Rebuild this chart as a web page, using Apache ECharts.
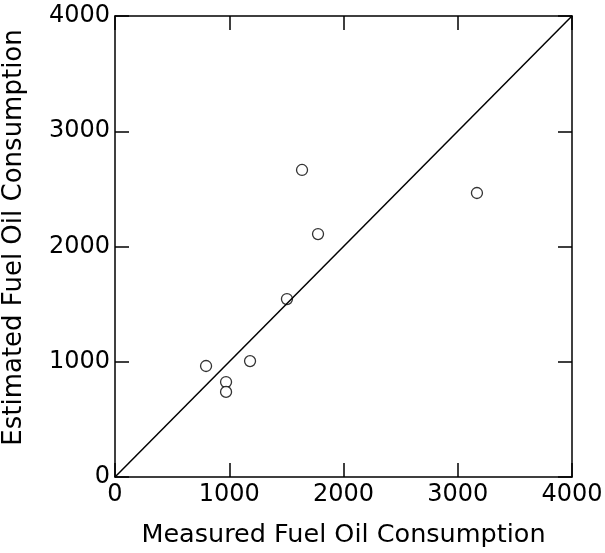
<!DOCTYPE html>
<html>
<head>
<meta charset="utf-8">
<script src="https://cdn.jsdelivr.net/npm/echarts@6/dist/echarts.min.js"></script>
<style>
  html, body { margin: 0; padding: 0; background: #fff; }
  #chart { width: 605px; height: 553px; }
</style>
</head>
<body>
<div id="chart"></div>
<script>
// measured vs estimated
const measured = [797, 972, 972, 1182, 1505, 1637, 1777, 3168]
const estimated = [963, 824, 738, 1006, 1544, 2664, 2108, 2464]
const diagonal = [[0, 0], [4000, 4000]]

const pts = measured.map((m, i) => [m, estimated[i]])
const font = 'DejaVu Sans'

const chart = echarts.init(document.getElementById('chart'))

// common axis look: black frame, ticks inside
function axisBase() {
  return {
    type: 'value',
    min: 0,
    max: 4000,
    interval: 1000,
    splitLine: { show: false },
    axisLine: { show: true, onZero: false, lineStyle: { color: '#000', width: 1.5 } },
    axisTick: { show: true, inside: true, length: 14, lineStyle: { color: '#000', width: 1.5 } }
  }
}

chart.setOption({
  animation: false,
  backgroundColor: '#fff',
  grid: { left: 115, right: 33, top: 16, bottom: 76, containLabel: false, outerBoundsMode: 'none' },
  xAxis: [
    Object.assign(axisBase(), {
      position: 'bottom',
      name: 'Measured Fuel Oil Consumption',
      nameLocation: 'middle',
      nameGap: 45,
      nameTextStyle: { color: '#000', fontSize: 25.5, fontFamily: font },
      axisLabel: { color: '#000', fontSize: 24, fontFamily: font, margin: 6, formatter: v => String(v) }
    }),
    Object.assign(axisBase(), { position: 'top', axisLabel: { show: false } })
  ],
  yAxis: [
    Object.assign(axisBase(), {
      position: 'left',
      name: 'Estimated Fuel Oil Consumption',
      nameLocation: 'middle',
      nameGap: 88,
      nameTextStyle: { color: '#000', fontSize: 26, fontFamily: font, padding: [0, 0, 0, 18] },
      axisLabel: { color: '#000', fontSize: 24, fontFamily: font, margin: 5, formatter: v => String(v) }
    }),
    Object.assign(axisBase(), { position: 'right', axisLabel: { show: false } })
  ],
  series: [
    {
      type: 'line',
      data: diagonal,
      symbol: 'none',
      lineStyle: { color: '#000', width: 1.5 },
      silent: true
    },
    {
      type: 'scatter',
      data: pts,
      symbol: 'circle',
      symbolSize: 11,
      itemStyle: { color: '#fff', borderColor: '#000', borderWidth: 1.3 }
    }
  ]
})
</script>
</body>
</html>
